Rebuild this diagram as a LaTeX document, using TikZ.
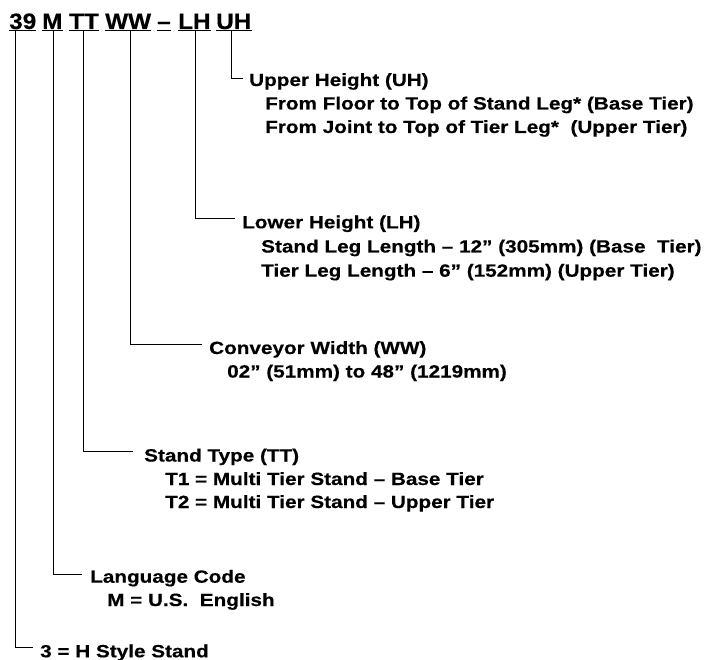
\documentclass[tikz,border=0pt]{standalone}
\usepackage{fontspec}
\newfontfamily\hdfont[FakeStretch=1.09, BoldFeatures={FakeBold=0.4}]{Liberation Sans}
\newfontfamily\bdfont[FakeStretch=1.17, BoldFeatures={FakeBold=0.4}]{Liberation Sans}

\tikzset{
  hd/.style={anchor=base west, inner sep=0pt, font=\hdfont\bfseries\fontsize{22.3}{26}\selectfont},
  bd/.style={anchor=base west, inner sep=0pt, font=\bdfont\bfseries\fontsize{17.7}{21}\selectfont},
  lead/.style={line width=1pt},
  uline/.style={line width=1.3pt}
}

\begin{document}
\begin{tikzpicture}[x=1pt, y=-1pt]
    \useasboundingbox (0,0) rectangle (707,660);
    % Kopfzeile
    \node[hd] (hd39) at (9,29) {39};
    \node[hd] (hdM) at (42,29) {M};
    \node[hd] (hdTT) at (69,29) {TT};
    \node[hd] (hdWW) at (105,29) {WW};
    \node[hd] (hddash) at (157,29) {–};
    \node[hd] (hdLH) at (178,29) {LH};
    \node[hd] (hdUH) at (216,29) {UH};
    \foreach \t in {39,M,TT,WW,dash,LH,UH}
      \draw[uline] ([yshift=-1.5pt]hd\t.base west) -- ([yshift=-1.5pt]hd\t.base east);

    % Upper Height
    \node[bd] (tiUH) at (249,86) {Upper Height (UH)};
    \node[bd] (uh1) at (265,109.5) {From Floor to Top of Stand Leg* (Base Tier)};
    \node[bd] (uh2) at (265,133) {From Joint to Top of Tier Leg*\ \ (Upper Tier)};
    % Lower Height
    \node[bd] (tiLH) at (242,228.3) {Lower Height (LH)};
    \node[bd] (lh1) at (261,252.5) {Stand Leg Length – 12” (305mm) (Base\ \ Tier)};
    \node[bd] (lh2) at (261,276.7) {Tier Leg Length – 6” (152mm) (Upper Tier)};
    % Conveyor Width
    \node[bd] (tiWW) at (209,354) {Conveyor Width (WW)};
    \node[bd] (ww1) at (227,377.5) {02” (51mm) to 48” (1219mm)};
    % Stand Type
    \node[bd] (tiTT) at (144,461.5) {Stand Type (TT)};
    \node[bd] (tt1) at (165,485) {T1 = Multi Tier Stand – Base Tier};
    \node[bd] (tt2) at (165,508) {T2 = Multi Tier Stand – Upper Tier};
    % Language Code
    \node[bd] (tiM) at (90,582.7) {Language Code};
    \node[bd] (m1) at (107,606) {M = U.S.\ \ English};
    % Style
    \node[bd] (ti39) at (40,657.3) {3 = H Style Stand};

    % Verbindungslinien
    \draw[lead] ([shift={(15,1.5)}]hdUH.base west) |- ([xshift=-6pt,yshift=7pt]tiUH.base west);
    \draw[lead] ([shift={(17,1.5)}]hdLH.base west) |- ([xshift=-7pt,yshift=9.3pt]tiLH.base west);
    \draw[lead] ([shift={(25,1.5)}]hdWW.base west) |- ([xshift=-7pt,yshift=9.7pt]tiWW.base west);
    \draw[lead] ([shift={(14,1.5)}]hdTT.base west) |- ([xshift=-11pt,yshift=10.5pt]tiTT.base west);
    \draw[lead] ([shift={(11,1.5)}]hdM.base west) |- ([xshift=-8pt,yshift=8.7pt]tiM.base west);
    \draw[lead] ([shift={(6,1.5)}]hd39.base west) |- ([xshift=-7pt,yshift=10pt]ti39.base west);
\end{tikzpicture}
\end{document}
